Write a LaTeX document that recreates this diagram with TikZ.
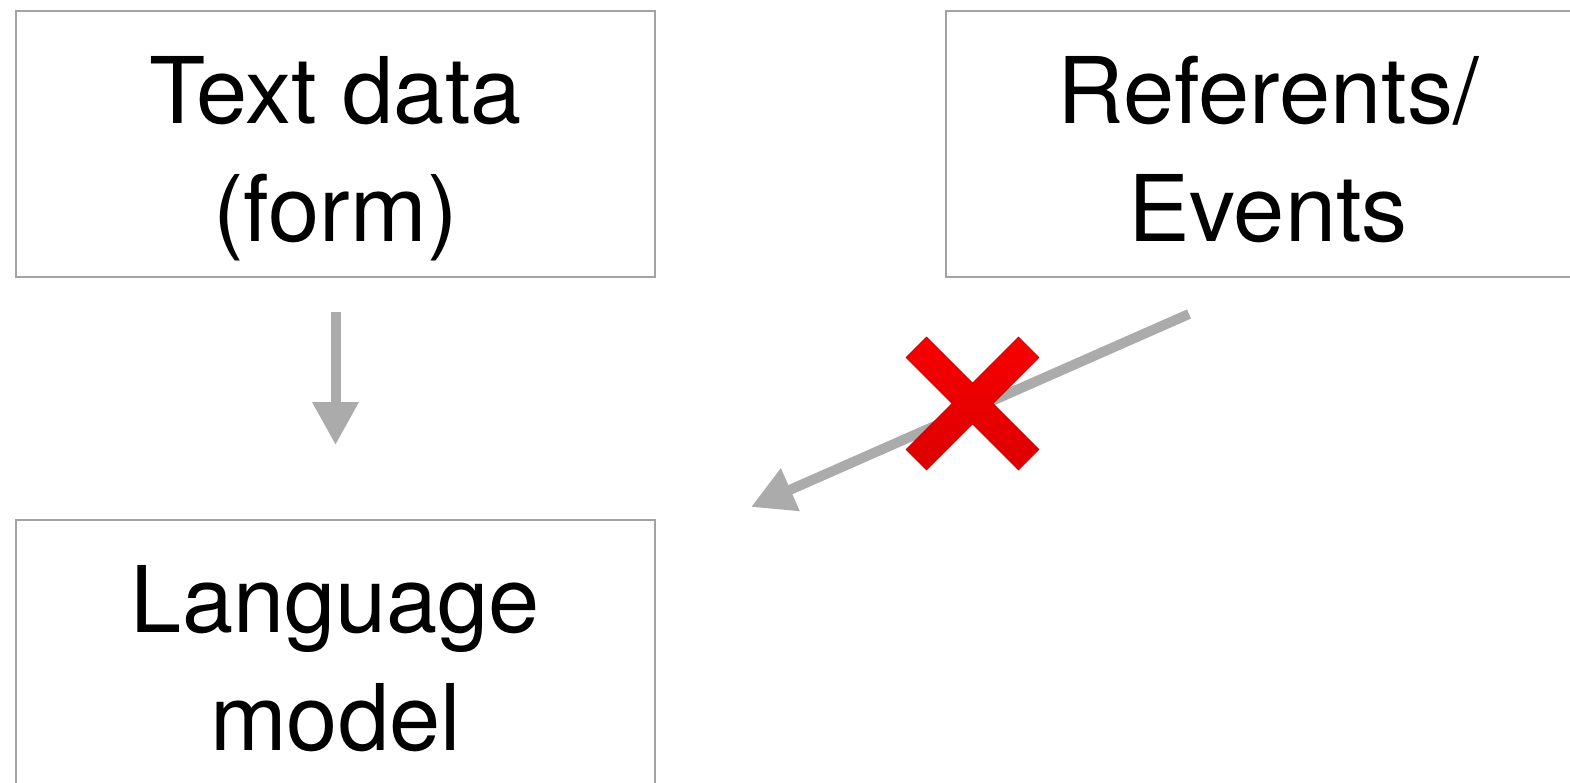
\documentclass[tikz,border=0pt]{standalone}
\usepackage{fontspec}
\setmainfont{TeX Gyre Heros}
\usetikzlibrary{arrows.meta}
\definecolor{boxgray}{HTML}{A3A3A3}
\definecolor{arrgray}{HTML}{ABABAB}
\definecolor{xtop}{HTML}{F80000}
\definecolor{xbot}{HTML}{DC0000}
\definecolor{xline}{HTML}{A80000}
\tikzset{
  box/.style={draw=boxgray, line width=2pt, minimum width=639pt, minimum height=266pt,
    align=center, inner sep=0pt, font=\fontsize{92}{118}\selectfont},
  boxtext/.style={align=center, inner sep=0pt, yshift=-14.5pt,
    font=\fontsize{92}{118}\selectfont},
  flow/.style={draw=arrgray, line width=10pt,
    -{Triangle[width=44pt,length=43pt]}},
}
\begin{document}
\begin{tikzpicture}[x=1pt,y=-1pt]
  \useasboundingbox (0,0) rectangle (1570,782);
  % three boxes
  \node[box] (td)  at (335.5,144) {};
  \node[box, minimum width=644pt] (ref) at (1268,144) {};
  \node[box] (lm)  at (335.5,653) {};
  % their labels
  \node[boxtext] (tdl)  at (td)  {\strut Text data\\(form)\strut};
  \node[boxtext] (refl) at (ref) {\strut Referents/\\Events\strut};
  \node[boxtext] (lml)  at (lm)  {\strut Language\\model\strut};
  % text -> model
  \draw[flow] ([yshift=-34pt]td.south) -- ([yshift=74pt]lm.north);
  % referents -> (nowhere), crossed out
  \coordinate (miss) at (751,507);
  \draw[flow] ([xshift=-79pt,yshift=-36pt]ref.south) -- (miss);
  % red cross over the blocked link
  \draw[xline, line width=0.6pt, top color=xtop, bottom color=xbot, shift={(972.5,403.5)}]
    (0,20.5) -- (45.97,66.47) -- (66.47,45.97) -- (20.5,0) -- (66.47,-45.97)
    -- (45.97,-66.47) -- (0,-20.5) -- (-45.97,-66.47) -- (-66.47,-45.97)
    -- (-20.5,0) -- (-66.47,45.97) -- (-45.97,66.47) -- cycle;
\end{tikzpicture}
\end{document}
